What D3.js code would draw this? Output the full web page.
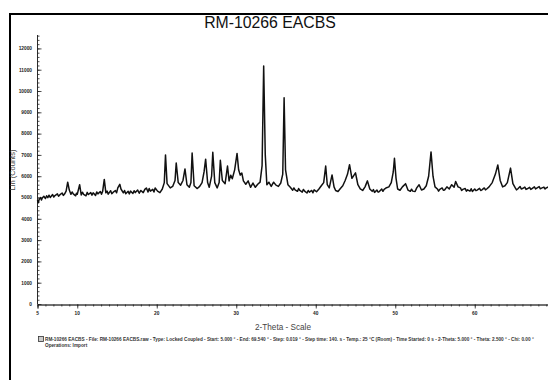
<!DOCTYPE html>
<html>
<head>
<meta charset="utf-8">
<script src="https://cdn.jsdelivr.net/npm/d3@7"></script>
<style>
  html, body { margin: 0; padding: 0; background: #fff; }
  svg { display: block; font-family: "Liberation Sans", Arial, sans-serif; }
</style>
</head>
<body>
<div class="canvas"></div>
<script>
// data: 2-theta (deg) and Lin counts
const twoTheta = [
  5.0, 5.1, 5.2, 5.4, 5.5, 5.6, 5.8, 6.0, 6.15, 6.3, 6.45, 6.6, 6.9, 7.05, 7.2, 7.5, 7.65, 7.8, 8.1, 8.25,
  8.4, 8.6, 8.8, 9.0, 9.2, 9.35, 9.5, 9.8, 9.9,
  10.0, 10.3, 10.5, 10.65, 10.8, 11.1, 11.25, 11.4, 11.7, 11.85, 12.0, 12.3, 12.45, 12.6, 12.9, 13.05, 13.2,
  13.4, 13.6, 13.75, 13.9, 14.2, 14.35, 14.5, 14.8, 14.95,
  15.1, 15.35, 15.5, 15.8, 15.95, 16.1, 16.4, 16.55, 16.7, 17.0, 17.15, 17.3, 17.6, 17.8, 18.0, 18.3, 18.5,
  18.7, 18.9, 19.05, 19.2, 19.5, 19.65, 19.8,
  20.1, 20.4, 20.7, 20.95, 21.1, 21.3, 21.7, 22.0, 22.3, 22.45, 22.7, 23.0, 23.3, 23.55, 23.8, 24.1, 24.3,
  24.45, 24.7, 25.1, 25.4, 25.7, 25.95, 26.15, 26.4, 26.6, 26.9, 27.05, 27.3, 27.6, 27.85, 28.0, 28.25,
  28.6, 28.9, 29.1, 29.3, 29.5, 29.8, 30.1, 30.3, 30.5, 30.7, 30.9, 31.2, 31.5, 31.8, 32.1, 32.4, 32.7,
  33.0, 33.25, 33.45, 33.65, 33.85, 34.1, 34.4, 34.7, 35.0, 35.3, 35.6, 35.85, 36.02, 36.2, 36.5, 36.8,
  37.1, 37.25, 37.4, 37.7, 37.85, 38.0, 38.3, 38.45, 38.6, 38.9, 39.05, 39.2, 39.5, 39.65, 39.8, 40.1,
  40.4, 40.7, 41.0, 41.25, 41.45, 41.7, 42.05, 42.3, 42.5, 42.8, 43.1, 43.4, 43.7, 44.0, 44.25, 44.55,
  45.0, 45.3, 45.6, 45.9, 46.2, 46.5, 46.8, 47.1, 47.25, 47.4, 47.7, 47.85, 48.0, 48.3, 48.45, 48.6, 48.9,
  49.2, 49.5, 49.75, 49.9, 50.1, 50.3, 50.6, 50.9, 51.3, 51.6, 51.9, 52.05, 52.2, 52.5, 52.7, 53.0, 53.3,
  53.6, 53.9, 54.2, 54.5, 54.75, 55.0, 55.3, 55.45, 55.6, 55.9, 56.05, 56.2, 56.5, 56.8, 57.1, 57.4, 57.6,
  57.9, 58.2, 58.35, 58.5, 58.8, 58.95, 59.1, 59.4, 59.55, 59.7, 60.0, 60.15, 60.3, 60.6, 60.75, 60.9,
  61.2, 61.35, 61.5, 61.8, 62.2, 62.6, 62.9, 63.2, 63.5, 63.8, 64.1, 64.5, 64.8, 65.1, 65.25, 65.4, 65.7,
  65.85, 66.0, 66.3, 66.45, 66.6, 66.9, 67.05, 67.2, 67.5, 67.65, 67.8, 68.1, 68.25, 68.4, 68.7, 68.85,
  69.0, 69.3, 69.45, 69.6, 70.0
];
const counts = [
  4880, 4750, 4900, 5000, 4880, 4980, 5060, 4950, 5080, 4990, 5110, 5000, 5140, 5020, 5090, 5170, 5060, 5120, 5210, 5100,
  5160, 5300, 5720, 5350, 5150, 5260, 5170, 5080, 5200,
  5150, 5600, 5120, 5250, 5150, 5080, 5240, 5140, 5230, 5110, 5220, 5100, 5260, 5170, 5280, 5150, 5300,
  5850, 5220, 5300, 5160, 5320, 5180, 5240, 5330, 5220,
  5450, 5620, 5400, 5220, 5330, 5180, 5290, 5170, 5300, 5190, 5320, 5230, 5350, 5200, 5330, 5230, 5380,
  5450, 5260, 5420, 5300, 5380, 5260, 5450,
  5300, 5230, 5400, 5700, 7000, 5650, 5450, 5520, 5800, 6620, 5700, 5580, 5800, 6340, 5600, 5480, 5700,
  7090, 5550, 5420, 5520, 5700, 6200, 6800, 5700, 5480, 6000, 7120, 5700, 5450, 5700, 6750, 5800,
  5650, 6480, 5780, 6050, 5880, 6300, 7070, 6300, 6050, 6150, 5780, 5620, 5780, 5480, 5680, 5480, 5620,
  5720, 6500, 11170, 7000, 5600, 5720, 5520, 5720, 5580, 5520, 5680, 6100, 9680, 6300, 5600, 5480,
  5340, 5450, 5360, 5290, 5420, 5330, 5250, 5380, 5300, 5210, 5330, 5250, 5330, 5220, 5360, 5270,
  5400, 5550, 5700, 6480, 5600, 5450, 6060, 5500, 5330, 5280, 5420, 5550, 5800, 6100, 6540, 5900,
  6160, 5600, 5400, 5330, 5500, 5780, 5400, 5290, 5370, 5240, 5350, 5250, 5280, 5400, 5290, 5380, 5460,
  5500, 5700, 6200, 6840, 5900, 5400, 5340, 5500, 5650, 5350, 5290, 5390, 5300, 5280, 5450, 5600, 5350,
  5400, 5550, 6000, 7140, 6000, 5500, 5400, 5300, 5380, 5450, 5340, 5350, 5500, 5400, 5600, 5480, 5750,
  5500, 5450, 5330, 5380, 5420, 5300, 5360, 5300, 5410, 5280, 5400, 5320, 5350, 5430, 5330, 5360,
  5450, 5360, 5400, 5500, 5700, 6100, 6530, 5800, 5500, 5550, 5700, 6380, 5650, 5450, 5360, 5400, 5520,
  5400, 5420, 5490, 5380, 5410, 5480, 5380, 5420, 5500, 5400, 5440, 5510, 5410, 5440, 5490, 5400,
  5450, 5500, 5410, 5440, 5480
];
const yTickValues = [0, 1000, 2000, 3000, 4000, 5000, 6000, 7000, 8000, 9000, 10000, 11000, 12000];
const xTickValues = [5, 10, 20, 30, 40, 50, 60];

const title = 'RM-10266 EACBS';
const xTitle = '2-Theta - Scale';
const yTitle = 'Lin (Counts)';
const footer1 = 'RM-10266 EACBS - File: RM-10266 EACBS.raw - Type: Locked Coupled - Start: 5.000 \u00b0 - End: 69.540 \u00b0 - Step: 0.019 \u00b0 - Step time: 140. s - Temp.: 25 \u00b0C (Room) - Time Started: 0 s - 2-Theta: 5.000 \u00b0 - Theta: 2.500 \u00b0 - Chi: 0.00 \u00b0';
const footer2 = 'Operations: Import';

const width = 548, height = 380;

const svg = d3.select('.canvas')
    .append('svg')
    .attr('width', width)
    .attr('height', height);

// outer frame (runs off the right and bottom)
svg.append('path')
    .attr('d', `M10,${height + 5} V14 H${width + 5}`)
    .attr('fill', 'none')
    .attr('stroke', '#000')
    .attr('stroke-width', 2);

svg.append('text')
    .attr('x', 270)
    .attr('y', 28)
    .attr('text-anchor', 'middle')
    .attr('font-size', 15.8)
    .attr('fill', '#111')
    .text(title);

// scales
const x = d3.scaleLinear().domain([5, 70]).range([37.5, 37.5 + 65 * 7.95]);
const y = d3.scaleLinear().domain([0, 12630]).range([304, 35]);

// y axis: minor ticks every 200, major every 1000, ticks inside
const yAxisGroup = svg.append('g').attr('transform', 'translate(37.5,0)');
yAxisGroup.call(d3.axisRight(y).tickValues(d3.range(0, 12601, 200)).tickSize(2).tickFormat(''));
yAxisGroup.append('g').call(d3.axisRight(y).tickValues(yTickValues).tickSize(4).tickFormat(''));
yAxisGroup.selectAll('path.domain').attr('d', `M0,${y(0)}V35`);
yAxisGroup.selectAll('line, path').attr('stroke', '#222').attr('stroke-width', 0.8);

svg.append('g').selectAll('text')
    .data(yTickValues)
    .join('text')
    .attr('x', 32)
    .attr('y', d => y(d) + 1.8)
    .attr('text-anchor', 'end')
    .attr('font-size', 4.8)
    .attr('font-weight', 'bold')
    .attr('fill', '#222')
    .text(d => d);

svg.append('text')
    .attr('transform', 'translate(15,170) rotate(-90)')
    .attr('text-anchor', 'middle')
    .attr('font-size', 7.5)
    .attr('fill', '#444')
    .text(yTitle);

// x axis: minor ticks every degree
const xAxisGroup = svg.append('g').attr('transform', `translate(0,${y(0) + 0.5})`);
xAxisGroup.call(d3.axisBottom(x).tickValues(d3.range(5, 71, 1)).tickSize(2).tickFormat(''));
xAxisGroup.append('g').call(d3.axisBottom(x).tickValues(xTickValues).tickSize(4).tickFormat(''));
xAxisGroup.selectAll('line, path').attr('stroke', '#222').attr('stroke-width', 0.8);

svg.append('g').selectAll('text')
    .data(xTickValues)
    .join('text')
    .attr('x', d => x(d))
    .attr('y', 315)
    .attr('text-anchor', 'middle')
    .attr('font-size', 4.8)
    .attr('font-weight', 'bold')
    .attr('fill', '#222')
    .text(d => d);

svg.append('text')
    .attr('x', 283)
    .attr('y', 330)
    .attr('text-anchor', 'middle')
    .attr('font-size', 8.2)
    .attr('fill', '#444')
    .text(xTitle);

// the diffraction line
const points = twoTheta.map((t, i) => [t, counts[i]]);
svg.append('path')
    .datum(points)
    .attr('fill', 'none')
    .attr('stroke', '#111')
    .attr('stroke-width', 1.5)
    .attr('stroke-linejoin', 'round')
    .attr('d', d3.line().x(d => x(d[0])).y(d => y(d[1])));

// footer legend
svg.append('rect')
    .attr('x', 38.5).attr('y', 336.5)
    .attr('width', 5).attr('height', 5)
    .attr('fill', '#ccc').attr('stroke', '#333').attr('stroke-width', 0.8);

svg.append('text')
    .attr('x', 45)
    .attr('y', 341)
    .attr('font-size', 4.7)
    .attr('font-weight', 'bold')
    .attr('fill', '#333')
    .text(footer1);

svg.append('text')
    .attr('x', 45)
    .attr('y', 347)
    .attr('font-size', 4.7)
    .attr('font-weight', 'bold')
    .attr('fill', '#333')
    .text(footer2);
</script>
</body>
</html>
